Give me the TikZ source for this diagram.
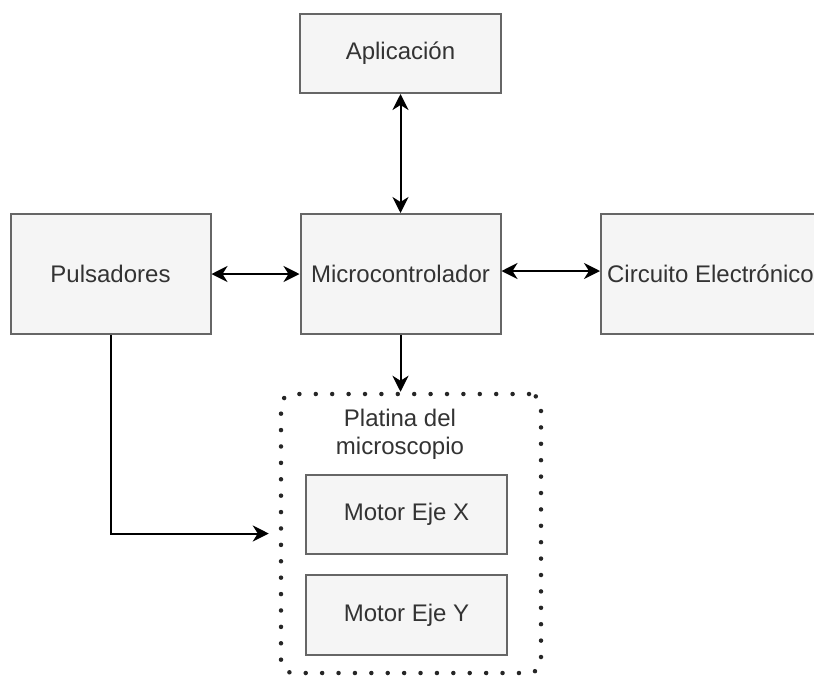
\documentclass[tikz,border=0pt]{standalone}
\usepackage{fontspec}
\setmainfont{Liberation Sans}
\usetikzlibrary{arrows.meta}
\definecolor{boxfill}{HTML}{F5F5F5}
\definecolor{boxline}{HTML}{666666}
\definecolor{txt}{HTML}{333333}
\begin{document}
\begin{tikzpicture}[x=1pt,y=-1pt,
  box/.style={draw=boxline, fill=boxfill, line width=2pt, text=txt,
    font=\fontsize{24}{28}\selectfont, inner sep=0pt, align=center},
  arr/.style={line width=2pt, black, arrows={-Stealth[length=16pt,width=16pt,inset=5pt]}},
  darr/.style={line width=2pt, black, arrows={Stealth[length=16pt,width=16pt,inset=5pt]-Stealth[length=16pt,width=16pt,inset=5pt]}},
  dotbox/.style={draw=black!85, line width=4.5pt, line cap=round, dash pattern=on 0pt off 16.4pt, rounded corners=12pt, inner sep=0pt},
  titletext/.style={text=txt, font=\fontsize{24}{28}\selectfont, align=center, inner sep=0pt}]
\useasboundingbox (0,0) rectangle (814,675);
\clip (0,0) rectangle (814,675);
\fill[white] (0,0) rectangle (814,675);
\node[box, minimum width=201pt, minimum height=79pt] (app) at (400.5,53.5) {Aplicación};
\node[box, minimum width=200pt, minimum height=120pt] (puls) at (110.5,274) {Pulsadores};
\node[box, minimum width=200pt, minimum height=120pt] (mcu) at (400.5,274) {Microcontrolador};
\node[box, minimum width=219pt, minimum height=120pt] (circ) at (710.5,274) {Circuito Electrónico};
\node[dotbox, minimum width=260pt, minimum height=279pt] (plat) at (411,533.5) {};
\node[titletext] (title) at (400,434) {Platina del\\microscopio};
\node[box, minimum width=201pt, minimum height=79pt] (mx) at (406.5,514.5) {Motor Eje X};
\node[box, minimum width=201pt, minimum height=80pt] (my) at (406.5,615) {Motor Eje Y};
\draw[darr] (app.south) -- (mcu.north);
\draw[darr] (puls.east) -- (mcu.west);
\draw[darr] ([yshift=3pt]mcu.east) -- ([yshift=3pt]circ.west);
\draw[arr] (mcu.south) -- (mcu.south |- plat.north);
\draw[arr, shorten >=10pt] (puls.south) |- (plat.west);
\end{tikzpicture}
\end{document}
